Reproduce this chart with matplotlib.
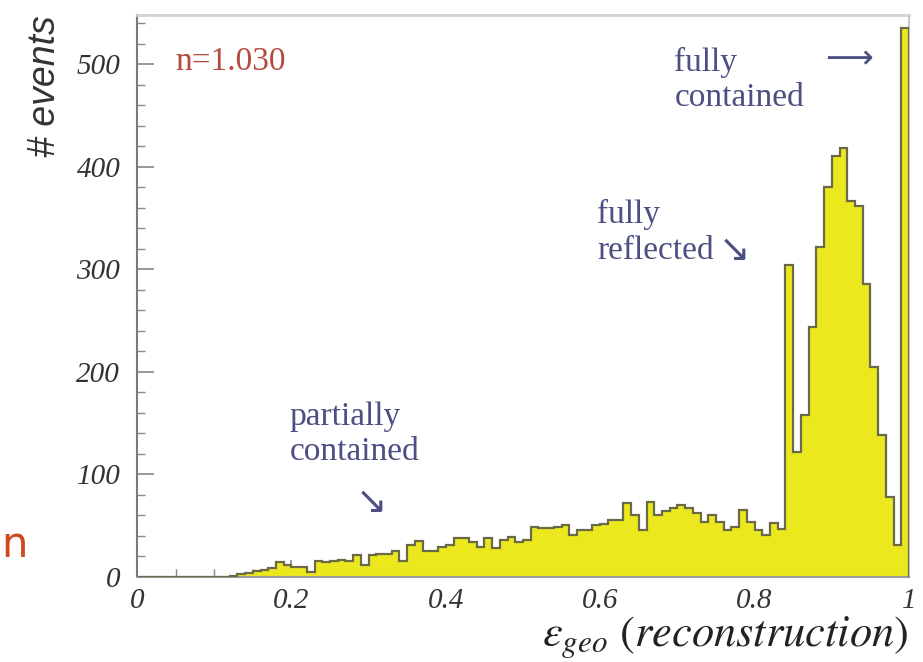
import numpy as np
import matplotlib
matplotlib.use("Agg")
import matplotlib.pyplot as plt

plt.rcParams['mathtext.fontset'] = 'stix'

# bin contents, 100 bins on [0, 1]
counts = [0, 0, 0, 0, 0, 0, 0, 0, 0, 0,
          0, 0, 1, 3, 4, 6, 7, 9, 15, 12,
          10, 10, 5, 16, 15, 16, 17, 16, 21, 12,
          21, 22, 22, 25, 16, 31, 35, 25, 25, 29,
          31, 38, 38, 34, 29, 38, 28, 36, 39, 34,
          36, 49, 48, 48, 49, 51, 41, 46, 46, 51,
          52, 56, 56, 72, 60, 46, 73, 60, 64, 67,
          70, 67, 62, 54, 60, 54, 46, 49, 65, 54,
          46, 41, 53, 47, 304, 122, 158, 244, 322, 380,
          411, 418, 367, 362, 286, 205, 138, 78, 31, 535]
n_bins = 100
x_ticks = [0, 0.2, 0.4, 0.6, 0.8, 1]
x_ticklabels = ['0', '0.2', '0.4', '0.6', '0.8', '1']
y_ticks = [0, 100, 200, 300, 400, 500]

edges = np.linspace(0, 1, n_bins + 1)

fig = plt.figure(figsize=(9.23, 6.62), dpi=100)
ax = fig.add_axes([137/923, 1-577/662, (909-137)/923, (577-15)/662])

ax.stairs(counts, edges, fill=True, color='#ece81e', zorder=2)
ax.stairs(counts, edges, color='#6b6a48', linewidth=1.6, zorder=3)

ax.set_xlim(0, 1)
ax.set_ylim(0, 548)

ax.set_xticks(x_ticks)
ax.set_xticklabels(x_ticklabels)
ax.set_xticks(np.arange(0, 1.0001, 0.05), minor=True)
ax.set_yticks(y_ticks)
ax.set_yticks(np.arange(0, 541, 20), minor=True)

for lab in ax.get_xticklabels() + ax.get_yticklabels():
    lab.set_fontfamily('Liberation Serif')
    lab.set_fontstyle('italic')
    lab.set_fontsize(21)
    lab.set_color('#333333')

ax.tick_params(which='major', direction='in', length=12, width=1.2, color='#888888')
ax.tick_params(which='minor', direction='in', length=6, width=1.0, color='#888888')
ax.tick_params(axis='y', pad=12)
ax.tick_params(axis='x', pad=8)

ax.spines['left'].set_color('#7a7a7a')
ax.spines['left'].set_linewidth(1.5)
ax.spines['bottom'].set_color('#9a9a9a')
ax.spines['bottom'].set_linewidth(1.5)
ax.spines['top'].set_color('#d2d2d2')
ax.spines['top'].set_linewidth(2)
ax.spines['right'].set_color('#c8c8c8')
ax.spines['right'].set_linewidth(1.5)

ax.set_ylabel('# events', loc='top', fontfamily='Liberation Sans', fontstyle='italic',
              fontsize=27, color='#333333', labelpad=10)
ax.set_xlabel(r'$\varepsilon_{geo}\ (reconstruction)$', loc='right', fontsize=32,
              color='#222222', labelpad=0)

blue = '#4b4f82'
serif = ['Liberation Serif', 'DejaVu Sans']
ax.text(0.049, 502, 'n=1.030', color='#b44a3e', fontsize=24, family=serif, va='center')
ax.text(0.198, 139, 'partially\ncontained', color=blue, fontsize=24, family=serif,
        va='center', linespacing=1.2)
ax.text(0.283, 72, '↘', color=blue, fontsize=27, family=['DejaVu Sans'], va='center')
ax.text(0.596, 336, 'fully\nreflected', color=blue, fontsize=24, family=serif,
        va='center', linespacing=1.2)
ax.text(0.754, 318, '↘', color=blue, fontsize=27, family=['DejaVu Sans'], va='center')
ax.text(0.696, 485, 'fully\ncontained', color=blue, fontsize=24, family=serif,
        va='center', linespacing=1.2)
ax.text(0.892, 505, '⟶', color=blue, fontsize=24, family=['DejaVu Sans'], va='center')

fig.text(0.001, 1-545/662, 'n', color='#d0481c', fontsize=30, family='DejaVu Sans',
         va='center')

fig.savefig('out.png', dpi=100)
